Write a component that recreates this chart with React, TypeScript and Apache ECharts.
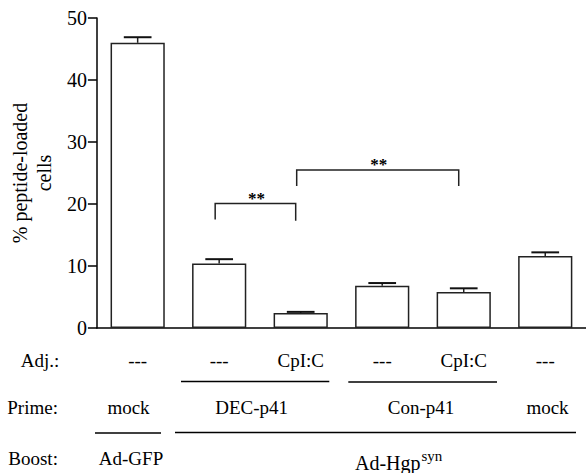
import React, { useEffect, useRef } from "react";
import * as echarts from "echarts";

const categories = ["GFP-mock", "DEC-none", "DEC-CpIC", "Con-none", "Con-CpIC", "Hgp-mock"];
const adjuvants = ["---", "---", "CpI:C", "---", "CpI:C", "---"];
const means = [46.0, 10.4, 2.4, 6.8, 5.8, 11.6];
const errors = [0.9, 0.7, 0.2, 0.45, 0.6, 0.6];
// [fromIndex, toIndex, topValue, leftLegValue, rightLegValue]
const brackets = [
  [1, 2, 20.1, 17.5, 17.3],
  [2, 4, 25.5, 22.9, 22.9],
];
const yTicks = { min: 0, max: 50, interval: 10 };

const SERIF = "Liberation Serif";

export default function App() {
  const ref = useRef<HTMLDivElement>(null);
  useEffect(() => {
    if (!ref.current) return;
    const chart = echarts.init(ref.current, null, { renderer: "svg" });
    const txt = (text: string, x: number, y: number, align: string, size = 19) => ({
      type: "text",
      x,
      y,
      style: {
        text,
        fill: "#000",
        fontFamily: SERIF,
        fontSize: size,
        align,
        verticalAlign: "middle",
      },
    });
    const ln = (x1: number, y1: number, x2: number, y2: number) => ({
      type: "line",
      shape: { x1, y1, x2, y2 },
      style: { stroke: "#000", lineWidth: 1.3 },
    });
    chart.setOption({
      animation: false,
      textStyle: { fontFamily: SERIF },
      grid: { left: 89, top: 18, width: 500.6, height: 310, containLabel: false },
      xAxis: {
        type: "category",
        data: categories,
        axisTick: { show: false },
        axisLine: { lineStyle: { color: "#000", width: 1.5 } },
        axisLabel: {
          interval: 0,
          formatter: (_v: string, i: number) => adjuvants[i],
          fontFamily: SERIF,
          fontSize: 19,
          color: "#000",
          margin: 32,
          verticalAlign: "middle",
        },
      },
      yAxis: {
        type: "value",
        min: yTicks.min,
        max: yTicks.max,
        interval: yTicks.interval,
        splitLine: { show: false },
        axisLine: { show: true, lineStyle: { color: "#000", width: 1.5 } },
        axisTick: { show: true, length: 9, lineStyle: { color: "#000", width: 1.5 } },
        axisLabel: { fontFamily: SERIF, fontSize: 20, color: "#000", margin: 10 },
        name: "% peptide-loaded\ncells",
        nameLocation: "middle",
        nameRotate: 90,
        nameGap: 32,
        nameTextStyle: { fontFamily: SERIF, fontSize: 20, color: "#000", lineHeight: 24 },
      },
      series: [
        {
          type: "bar",
          data: means,
          barWidth: "66.5%",
          itemStyle: { color: "#fff", borderColor: "#222", borderWidth: 1.5 },
        },
        {
          type: "custom",
          z: 5,
          data: means.map((m, i) => [i, m, errors[i]]),
          encode: { x: 0, y: 1 },
          renderItem: (_p: any, api: any) => {
            const i = api.value(0);
            const m = api.value(1);
            const e = api.value(2);
            const b = api.coord([i, m]);
            const t = api.coord([i, m + e]);
            const half = api.size([1, 0])[0] * 0.17;
            return {
              type: "group",
              children: [
                { type: "line", shape: { x1: b[0], y1: b[1], x2: t[0], y2: t[1] }, style: { stroke: "#222", lineWidth: 1.5 } },
                { type: "line", shape: { x1: t[0] - half, y1: t[1], x2: t[0] + half, y2: t[1] }, style: { stroke: "#111", lineWidth: 2 } },
              ],
            };
          },
        },
        {
          type: "custom",
          z: 5,
          data: brackets,
          encode: { x: [0, 1], y: [2, 3, 4] },
          renderItem: (_p: any, api: any) => {
            const a = api.value(0);
            const b = api.value(1);
            const top = api.value(2);
            const l1 = api.value(3);
            const l2 = api.value(4);
            const pt = api.coord([a, top]);
            const pr = api.coord([b, top]);
            const pl = api.coord([a, l1]);
            const pr2 = api.coord([b, l2]);
            const xl = pt[0] - 4;
            const xr = pr[0] - 5;
            return {
              type: "group",
              children: [
                {
                  type: "polyline",
                  shape: { points: [[xl, pl[1]], [xl, pt[1]], [xr, pt[1]], [xr, pr2[1]]] },
                  style: { stroke: "#222", lineWidth: 1.5, fill: null },
                },
                {
                  type: "text",
                  x: (xl + xr) / 2 + 1,
                  y: pt[1] - 5,
                  style: {
                    text: "**",
                    fill: "#000",
                    fontFamily: SERIF,
                    fontWeight: "bold",
                    fontSize: 17,
                    align: "center",
                    verticalAlign: "middle",
                  },
                },
              ],
            };
          },
        },
      ],
      graphic: [
        txt("Adj.:", 20.7, 360, "left"),
        txt("Prime:", 7.3, 407, "left"),
        txt("Boost:", 8.3, 458.5, "left"),
        ln(181, 381.5, 329.3, 381.5),
        ln(348.3, 382, 497, 382),
        txt("mock", 128.5, 407, "center"),
        txt("DEC-p41", 251.7, 407, "center"),
        txt("Con-p41", 421, 407, "center"),
        txt("mock", 547.5, 407, "center"),
        ln(95, 433, 161, 433),
        ln(175, 432.5, 576, 432.5),
        txt("Ad-GFP", 131, 458, "center"),
        txt("Ad-Hgp", 420.5, 462.5, "right", 20),
        txt("syn", 421.5, 455.5, "left", 15),
      ],
    });
    return () => chart.dispose();
  }, []);
  return (
    <div
      ref={ref}
      style={{ position: "absolute", left: 0, top: 0, width: 586, height: 473, background: "#fff" }}
    />
  );
}
